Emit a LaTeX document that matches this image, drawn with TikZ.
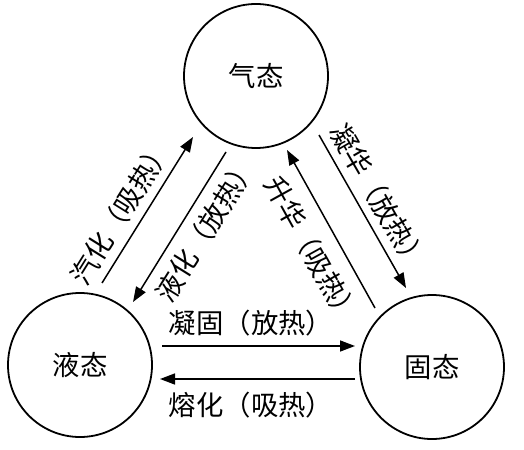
\documentclass[tikz,border=0pt]{standalone}
\usepackage{fontspec}
\setmainfont{Noto Sans CJK SC}
\usetikzlibrary{arrows.meta}
\tikzset{
  state/.style={circle, draw, line width=1.8bp, minimum size=144bp, inner sep=0pt, font=\fontsize{27.5}{30}\selectfont},
  arr/.style={line width=1.5bp, -{Triangle[length=15bp,width=11bp]}},
  lab/.style={inner sep=0pt, font=\fontsize{27.5}{30}\selectfont}
}
\begin{document}
\begin{tikzpicture}[x=1bp,y=-1bp]
\useasboundingbox[fill=white] (0,0) rectangle (524,450);
\node[state] (gas) at (256,76) {气态};
\node[state] (liq) at (80,365) {液态};
\node[state] (sol) at (432,367) {固态};
% arrow end points
\coordinate (a1) at (102,283); \coordinate (a2) at (193,137);
\coordinate (b1) at (226,152); \coordinate (b2) at (133,302);
\coordinate (c1) at (375,308); \coordinate (c2) at (287,150);
\coordinate (d1) at (319,135); \coordinate (d2) at (406,288);
\coordinate (e1) at (162,346); \coordinate (e2) at (355,346);
\coordinate (f1) at (355,379); \coordinate (f2) at (160,379);
\draw[arr] (a1) -- (a2);
\draw[arr] (b1) -- (b2);
\draw[arr] (c1) -- (c2);
\draw[arr] (d1) -- (d2);
\draw[arr] (e1) -- (e2);
\draw[arr] (f1) -- (f2);
\node[lab, rotate=58] (l1) at (121,212) {汽化（吸热）};
\node[lab, rotate=58] (l2) at (206,229) {液化（放热）};
\node[lab, rotate=-61] (l3) at (312,250) {升华（吸热）};
\node[lab, rotate=-60] (l4) at (379,197) {凝华（放热）};
\node[lab] (l5) at (251,323) {凝固（放热）};
\node[lab] (l6) at (251,405) {熔化（吸热）};
\end{tikzpicture}
\end{document}
